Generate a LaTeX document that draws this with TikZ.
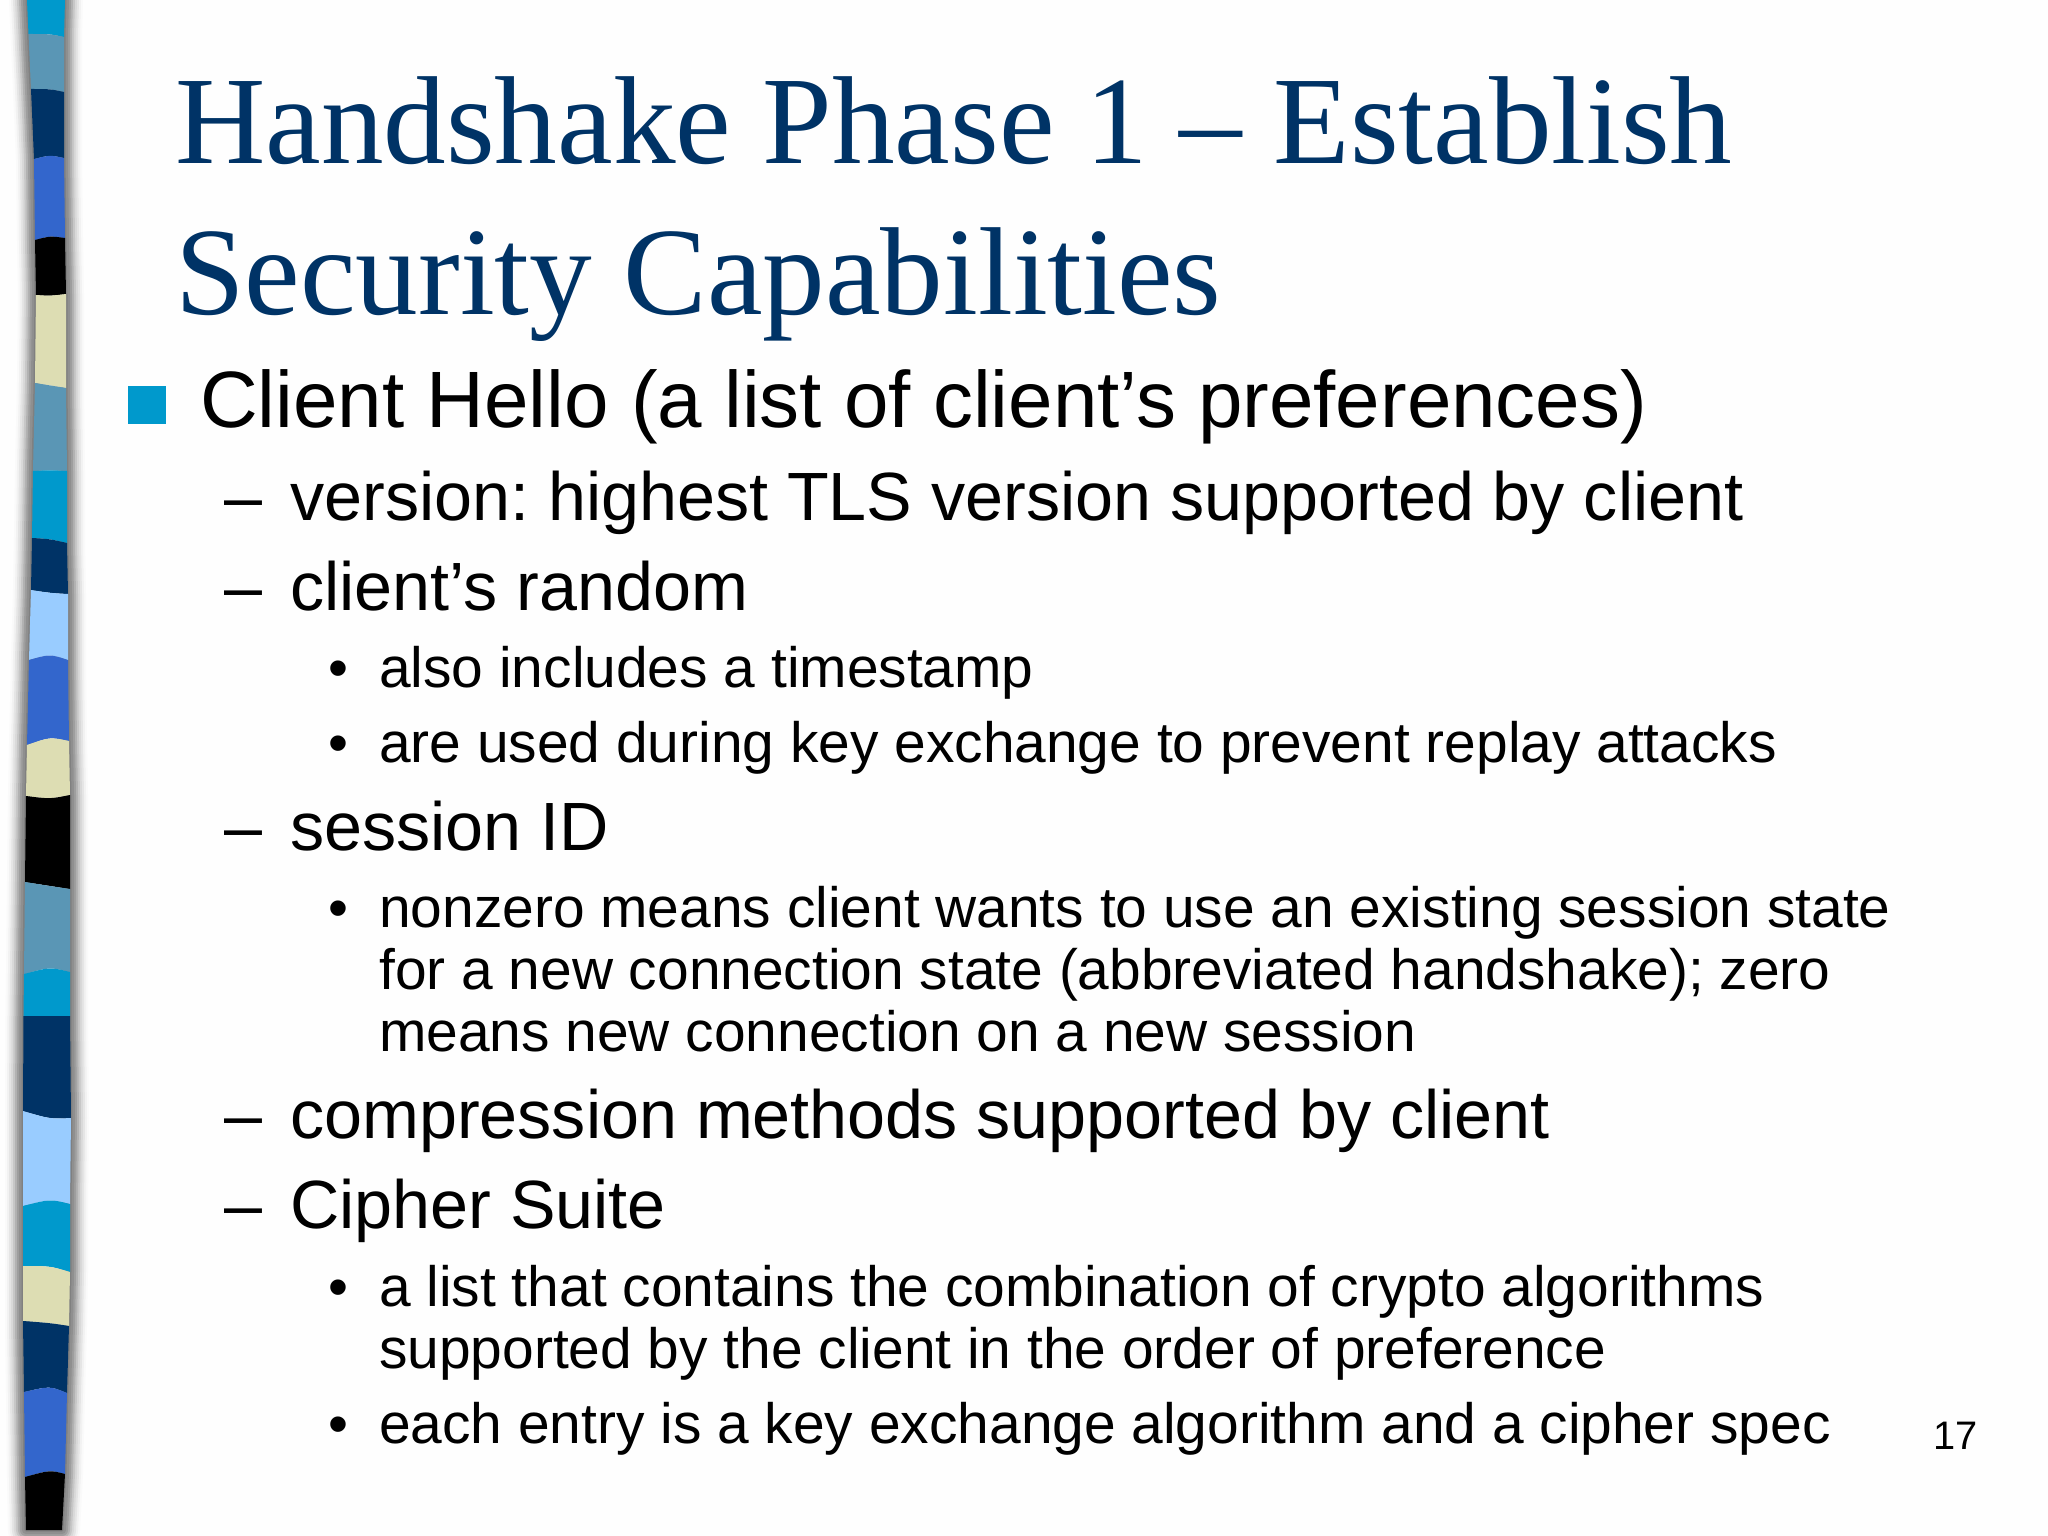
\documentclass[tikz,border=0pt]{standalone}
\usepackage{fontspec}
\setmainfont{Liberation Sans}
\newfontfamily\titlefont{Liberation Serif}
\definecolor{navy}{HTML}{003366}
\definecolor{sky}{HTML}{0099CC}
\definecolor{teal}{HTML}{5A96B5}
\definecolor{royal}{HTML}{3366CC}
\definecolor{cream}{HTML}{DDDDB3}
\definecolor{pale}{HTML}{99CCFF}
\tikzset{
 x=1pt,y=-1pt,
 titletext/.style={anchor=base west,inner sep=0pt,text=navy,font=\titlefont\fontsize{125.16}{125}\selectfont},
 lvla/.style={anchor=base west,inner sep=0pt,text=black,font=\frenchspacing\fontsize{79.95}{80}\selectfont},
 lvlb/.style={anchor=base west,inner sep=0pt,text=black,font=\frenchspacing\fontsize{68.27}{68}\selectfont},
 lvlc/.style={anchor=base west,inner sep=0pt,text=black,font=\frenchspacing\fontsize{56.89}{57}\selectfont},
 pagenum/.style={anchor=base west,inner sep=0pt,text=black,font=\fontsize{39.8}{40}\selectfont},
}
\begin{document}
\begin{tikzpicture}
\useasboundingbox (0,0) rectangle (2048,1536);
\fill[white!99.5!black] (0,0) rectangle (2048,1536);
% shadow
\foreach \w/\g in {36/98,32/95,28/90,24/85,20/78,16/70,12/62,8/56,3/50}{
 \draw[line width=\w,black!\the\numexpr100-\g\relax,line join=round]
  (27,0)--(28.5,34)--(31,89)--(34,159)--(35,240)--(36,295)--(35,383)--(33,471)--(32,538)--(31,590)--(29,660)--(27,745)--(26,796)--(25,882)--(24,974)--(23.5,1016)--(23,1111)--(23,1206)--(23,1266)--(23,1321)--(24,1392)--(25,1477)--(26,1530)
  --(62,1530)--(65,1474)--(67,1393)--(69,1326)--(70,1272)--(70,1204)--(71,1118)--(70,1016)--(70,972)--(70,889)--(70,795)--(69,741)--(68,660)--(68,594)--(67,543)--(67,471)--(66,388)--(66,294)--(65,238)--(64,158)--(64,92)--(64,37)--(65,0)--cycle;
}
% bands
\fill[sky] (27,0)--(65,0)--(64,37)..controls(50,34)..(28.5,34)--cycle;
\fill[teal] (28.5,34)..controls(50,34)..(64,37)--(64,92)..controls(50,89)..(31,89)--cycle;
\fill[navy] (31,89)..controls(50,89)..(64,92)--(64,158)..controls(50,155)..(34,159)--cycle;
\fill[royal] (34,159)..controls(50,155)..(64,158)--(65,238)..controls(50,236)..(35,240)--cycle;
\fill[black] (35,240)..controls(50,236)..(65,238)--(66,294)..controls(50,296)..(36,295)--cycle;
\fill[cream] (36,295)..controls(50,296)..(66,294)--(66,388)..controls(50,386)..(35,383)--cycle;
\fill[teal] (35,383)..controls(50,386)..(66,388)--(67,471)..controls(50,470)..(33,471)--cycle;
\fill[sky] (33,471)..controls(50,470)..(67,471)--(67,543)..controls(50,539)..(32,538)--cycle;
\fill[navy] (32,538)..controls(50,539)..(67,543)--(68,594)..controls(50,593)..(31,590)--cycle;
\fill[pale] (31,590)..controls(50,593)..(68,594)--(68,660)..controls(50,654)..(29,660)--cycle;
\fill[royal] (29,660)..controls(50,654)..(68,660)--(69,741)..controls(50,737)..(27,745)--cycle;
\fill[cream] (27,745)..controls(50,737)..(69,741)--(70,795)..controls(50,799)..(26,796)--cycle;
\fill[black] (26,796)..controls(50,799)..(70,795)--(70,889)..controls(50,886)..(25,882)--cycle;
\fill[teal] (25,882)..controls(50,886)..(70,889)--(70,972)..controls(50,967)..(24,974)--cycle;
\fill[sky] (24,974)..controls(50,967)..(70,972)--(70,1016)--(23.5,1016)--cycle;
\fill[navy] (23.5,1016)--(70,1016)--(71,1118)..controls(50,1119)..(23,1111)--cycle;
\fill[pale] (23,1111)..controls(50,1119)..(71,1118)--(70,1204)..controls(50,1199)..(23,1206)--cycle;
\fill[sky] (23,1206)..controls(50,1199)..(70,1204)--(70,1272)..controls(50,1266)..(23,1266)--cycle;
\fill[cream] (23,1266)..controls(50,1266)..(70,1272)--(69,1326)..controls(50,1323)..(23,1321)--cycle;
\fill[navy] (23,1321)..controls(50,1323)..(69,1326)--(67,1393)..controls(50,1386)..(24,1392)--cycle;
\fill[royal] (24,1392)..controls(50,1386)..(67,1393)--(65,1474)..controls(50,1470)..(25,1477)--cycle;
\fill[black] (25,1477)..controls(50,1470)..(65,1474)--(62,1530)--(26,1530)--cycle;
% text
\node[titletext] (t1) at (175,164) {Handshake Phase 1 – Establish};
\node[titletext] (t2) at (175,314) {Security Capabilities};
\fill[sky] (128,386) rectangle (166,424);
\node[lvla] (a1) at (200,427) {Client Hello (a list of client’s preferences)};
\node[lvlb] (d1) at (224,520) {–};
\node[lvlb] (b1) at (290,520) {version: highest TLS version supported by client};
\node[lvlb] (d2) at (224,610) {–};
\node[lvlb] (b2) at (290,610) {client’s random};
\node[lvlc] (e1) at (328,687) {•};
\node[lvlc] (c1) at (379,687) {also includes a timestamp};
\node[lvlc] (e2) at (328,762) {•};
\node[lvlc] (c2) at (379,762) {are used during key exchange to prevent replay attacks};
\node[lvlb] (d3) at (224,850) {–};
\node[lvlb] (b3) at (290,850) {session ID};
\node[lvlc] (e3) at (328,927) {•};
\node[lvlc] (c3) at (379,927) {nonzero means client wants to use an existing session state};
\node[lvlc] (c4) at (379,989) {for a new connection state (abbreviated handshake); zero};
\node[lvlc] (c5) at (379,1051) {means new connection on a new session};
\node[lvlb] (d4) at (224,1138) {–};
\node[lvlb] (b4) at (290,1138) {compression methods supported by client};
\node[lvlb] (d5) at (224,1228) {–};
\node[lvlb] (b5) at (290,1228) {Cipher Suite};
\node[lvlc] (e4) at (328,1306) {•};
\node[lvlc] (c6) at (379,1306) {a list that contains the combination of crypto algorithms};
\node[lvlc] (c7) at (379,1368) {supported by the client in the order of preference};
\node[lvlc] (e5) at (328,1443) {•};
\node[lvlc] (c8) at (379,1443) {each entry is a key exchange algorithm and a cipher spec};
\node[pagenum] (p) at (1933,1449) {17};
\end{tikzpicture}
\end{document}
